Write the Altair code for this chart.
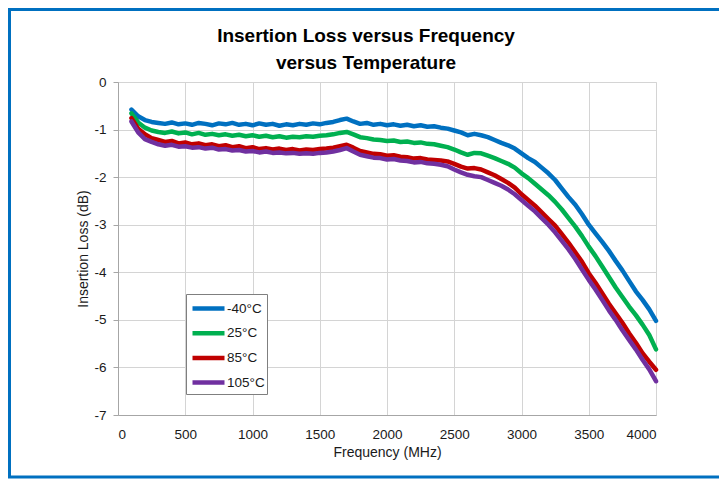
import altair as alt
import pandas as pd

freq = list(range(100, 4001, 50))

series_names = ["-40°C", "25°C", "85°C", "105°C"]
series_colors = ["#0070C0", "#00B050", "#C00000", "#7030A0"]

loss_m40 = [-0.58, -0.72, -0.80, -0.84, -0.86, -0.88, -0.85, -0.89, -0.87, -0.90,
            -0.86, -0.88, -0.91, -0.87, -0.89, -0.86, -0.90, -0.88, -0.91, -0.87,
            -0.90, -0.88, -0.92, -0.89, -0.91, -0.88, -0.90, -0.87, -0.89, -0.86,
            -0.84, -0.80, -0.77, -0.83, -0.88, -0.86, -0.90, -0.88, -0.91, -0.89,
            -0.92, -0.90, -0.93, -0.91, -0.94, -0.93, -0.96, -0.98, -1.02, -1.06,
            -1.12, -1.09, -1.12, -1.16, -1.22, -1.28, -1.33, -1.40, -1.50, -1.60,
            -1.68, -1.80, -1.92, -2.06, -2.24, -2.42, -2.58, -2.78, -3.00, -3.18,
            -3.36, -3.55, -3.76, -3.96, -4.18, -4.40, -4.58, -4.78, -5.02]

loss_25 = [-0.66, -0.85, -0.96, -1.02, -1.05, -1.07, -1.04, -1.08, -1.06, -1.10,
           -1.07, -1.11, -1.09, -1.12, -1.10, -1.13, -1.11, -1.14, -1.12, -1.15,
           -1.13, -1.16, -1.14, -1.17, -1.15, -1.16, -1.14, -1.15, -1.13, -1.12,
           -1.10, -1.07, -1.05, -1.10, -1.16, -1.18, -1.21, -1.22, -1.24, -1.23,
           -1.26, -1.25, -1.28, -1.27, -1.30, -1.31, -1.34, -1.37, -1.42, -1.48,
           -1.53, -1.49, -1.50, -1.55, -1.60, -1.66, -1.72, -1.80, -1.92, -2.02,
           -2.14, -2.26, -2.38, -2.52, -2.68, -2.86, -3.04, -3.24, -3.46, -3.66,
           -3.88, -4.10, -4.32, -4.52, -4.72, -4.90, -5.10, -5.32, -5.62]

loss_85 = [-0.76, -0.98, -1.10, -1.18, -1.22, -1.26, -1.24, -1.29, -1.27, -1.31,
           -1.29, -1.33, -1.31, -1.35, -1.33, -1.37, -1.35, -1.39, -1.37, -1.41,
           -1.39, -1.42, -1.40, -1.43, -1.41, -1.44, -1.42, -1.43, -1.41, -1.40,
           -1.38, -1.35, -1.32, -1.38, -1.45, -1.48, -1.51, -1.52, -1.55, -1.54,
           -1.57, -1.58, -1.61, -1.60, -1.63, -1.64, -1.65, -1.67, -1.72, -1.78,
           -1.82, -1.81, -1.84, -1.90, -1.96, -2.04, -2.12, -2.22, -2.36, -2.48,
           -2.60, -2.74, -2.88, -3.02, -3.20, -3.38, -3.58, -3.78, -4.02, -4.22,
           -4.44, -4.66, -4.86, -5.06, -5.28, -5.48, -5.70, -5.88, -6.05]

loss_105 = [-0.83, -1.06, -1.20, -1.26, -1.31, -1.34, -1.32, -1.36, -1.35, -1.38,
            -1.37, -1.40, -1.38, -1.42, -1.41, -1.44, -1.43, -1.46, -1.45, -1.48,
            -1.46, -1.49, -1.48, -1.50, -1.49, -1.51, -1.50, -1.51, -1.49, -1.48,
            -1.46, -1.43, -1.39, -1.46, -1.53, -1.56, -1.59, -1.60, -1.63, -1.62,
            -1.65, -1.66, -1.69, -1.68, -1.71, -1.72, -1.74, -1.77, -1.84, -1.90,
            -1.95, -1.98, -2.00, -2.06, -2.12, -2.18, -2.26, -2.36, -2.48, -2.60,
            -2.72, -2.86, -3.00, -3.16, -3.34, -3.52, -3.72, -3.94, -4.16, -4.36,
            -4.58, -4.80, -5.00, -5.22, -5.42, -5.62, -5.84, -6.04, -6.29]

x_ticks = [0, 500, 1000, 1500, 2000, 2500, 3000, 3500, 4000]
y_ticks = [0, -1, -2, -3, -4, -5, -6, -7]

rows = []
for name, vals in zip(series_names, [loss_m40, loss_25, loss_85, loss_105]):
    for f, v in zip(freq, vals):
        rows.append({"freq": f, "loss": v, "temp": name})
df = pd.DataFrame(rows)

FONT = "Liberation Sans, Arial"
TXT = "#1a1a1a"

lines = alt.Chart(df).mark_line(strokeWidth=4.5, strokeJoin="round", strokeCap="round").encode(
    x=alt.X("freq:Q", scale=alt.Scale(domain=[0, 4000], nice=False),
            axis=alt.Axis(values=x_ticks, title="Frequency (MHz)", format="d",
                          grid=True, gridColor="#d4d4d4", domainColor="#a6a6a6",
                          ticks=False, labelPadding=12, labelFontSize=13.5,
                          titleFontSize=14, titlePadding=5, titleFontWeight="normal",
                          labelColor=TXT, titleColor=TXT, labelFont=FONT, titleFont=FONT)),
    y=alt.Y("loss:Q", scale=alt.Scale(domain=[-7, 0], nice=False),
            axis=alt.Axis(values=y_ticks, title="Insertion Loss (dB)",
                          labelExpr="'' + datum.value",
                          grid=True, gridColor="#d4d4d4", domainColor="#a6a6a6",
                          tickColor="#a6a6a6", tickSize=5, labelPadding=7,
                          labelFontSize=13.5, titleFontSize=14, titlePadding=3,
                          titleFontWeight="normal",
                          labelColor=TXT, titleColor=TXT, labelFont=FONT, titleFont=FONT)),
    color=alt.Color("temp:N", sort=series_names,
                    scale=alt.Scale(domain=series_names, range=series_colors),
                    legend=alt.Legend(title=None, orient="none", legendX=68, legendY=212,
                                      strokeColor="#7f7f7f", fillColor="white", padding=2,
                                      symbolType="M-0.8,0L2.4,0", symbolStrokeWidth=4.5,
                                      symbolSize=400, labelFontSize=13.5, labelOffset=14,
                                      labelFont=FONT, labelColor=TXT, rowPadding=2.7)),
    order=alt.Order("freq:Q"),
)

frame_df = pd.DataFrame({"k": [0]})
frame = alt.Chart(frame_df).mark_rect(fill=None, stroke="#0070C0", strokeWidth=3).encode(
    x=alt.value(-108.5), x2=alt.value(660), y=alt.value(-72.5), y2=alt.value(395)
)

chart = alt.layer(frame, lines).properties(
    width=538, height=333,
    padding={"left": 110, "top": 74, "right": 63, "bottom": 64},
    autosize=alt.AutoSizeParams(type="none"),
    title=alt.TitleParams(
        text=["Insertion Loss versus Frequency", "versus Temperature"],
        fontSize=19, fontWeight="bold", font=FONT, color="#000000",
        anchor="middle", dx=-21, offset=0, dy=65, lineHeight=27),
).configure_view(stroke=None).configure(background="white")

chart.save("out.html", embed_options={"renderer": "svg", "actions": False})
